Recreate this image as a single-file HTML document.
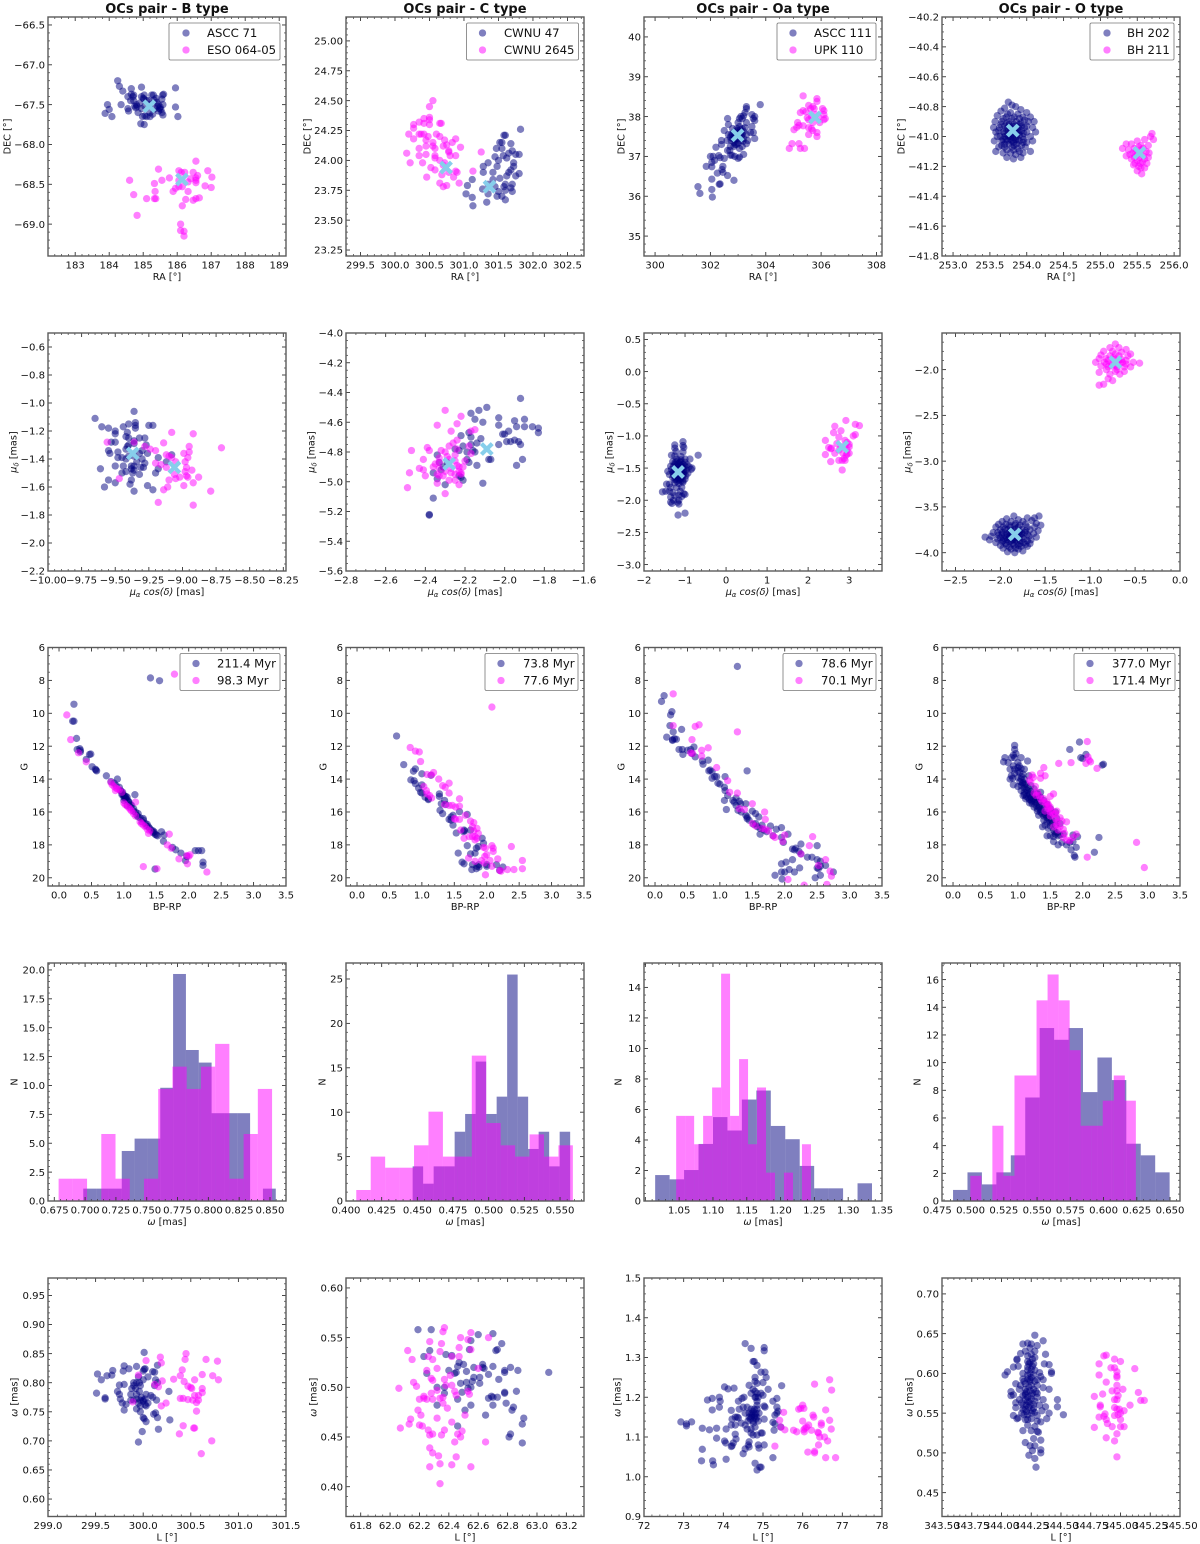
<!DOCTYPE html>
<html lang="en">
<head>
<meta charset="utf-8">
<title>OCs pair diagnostics</title>
<style>
html,body{margin:0;padding:0;background:#fff}
svg{display:block;filter:blur(0.35px)}
text{font-family:"DejaVu Sans","Liberation Sans",sans-serif;fill:#111}
</style>
</head>
<body>
<svg id="chart" xmlns="http://www.w3.org/2000/svg" width="1200" height="1544" viewBox="0 0 1200 1544"></svg>
<script>
// ---------- RA / DEC ----------
const raDecBNavy=[[184.25,-67.2],[184.3,-67.27],[184.4,-67.33],[184.35,-67.5],[183.95,-67.5],[184,-67.56],[183.88,-67.61],[184.08,-67.65],[184.55,-67.4],[184.65,-67.3],[184.65,-67.37],[184.7,-67.4],[184.72,-67.45],[184.63,-67.45],[184.55,-67.55],[184.57,-67.58],[184.75,-67.52],[184.82,-67.52],[184.85,-67.6],[184.95,-67.28],[184.95,-67.4],[185,-67.42],[185.03,-67.38],[184.95,-67.55],[184.98,-67.65],[185.05,-67.64],[185.1,-67.65],[184.93,-67.74],[185.03,-67.75],[185.15,-67.45],[185.2,-67.5],[185.25,-67.38],[185.3,-67.38],[185.38,-67.42],[185.2,-67.6],[185.2,-67.65],[185.28,-67.62],[185.45,-67.5],[185.5,-67.53],[185.52,-67.56],[185.45,-67.58],[185.55,-67.6],[185.58,-67.63],[185.55,-67.43],[185.57,-67.38],[185.6,-67.37],[185.58,-67.5],[185.95,-67.29],[185.95,-67.53],[186.02,-67.65],[185.35,-67.55],[185.1,-67.45],[184.8,-67.5],[185.42,-67.52],[184.9,-67.48],[184.72,-67.38],[184.78,-67.54],[185.02,-67.43],[185.32,-67.44],[185.48,-67.55],[185.05,-67.52],[185.4,-67.47]];
const raDecBMagenta=[[185.45,-68.31],[184.6,-68.45],[184.72,-68.63],[184.82,-68.89],[185.1,-68.68],[185.33,-68.49],[185.35,-68.59],[185.33,-68.68],[185.37,-68.68],[185.55,-68.45],[185.77,-68.42],[185.88,-68.59],[185.95,-68.55],[186.05,-68.33],[186.12,-68.35],[186.05,-68.45],[186.05,-68.53],[186.15,-68.53],[186.22,-68.35],[186.1,-69],[186.1,-69.08],[186.2,-69.09],[186.2,-69.15],[186.15,-68.77],[186.25,-68.69],[186.32,-68.59],[186.32,-68.47],[186.47,-68.35],[186.55,-68.21],[186.55,-68.42],[186.55,-68.45],[186.55,-68.48],[186.6,-68.39],[186.9,-68.33],[187.02,-68.41],[186.82,-68.52],[187,-68.54],[186.47,-68.7],[186.55,-68.68],[186.65,-68.67],[186.4,-68.43]];
const raDecBCenters=[[185.18,-67.52],[186.14,-68.44]];
const raDecCNavy=[[301.03,23.72],[301.05,23.79],[301.12,23.84],[301.12,23.69],[301.13,23.62],[301.27,23.76],[301.33,23.65],[301.35,23.72],[301.28,23.9],[301.28,23.95],[301.35,23.98],[301.42,23.9],[301.42,23.84],[301.45,24.03],[301.5,24],[301.48,23.95],[301.47,24.1],[301.52,24.15],[301.55,24.15],[301.58,24.21],[301.6,24.21],[301.57,24.04],[301.55,24.1],[301.65,24.06],[301.62,24.02],[301.68,24.14],[301.7,24.08],[301.75,24.05],[301.8,24.05],[301.82,24.26],[301.72,23.98],[301.72,23.95],[301.68,23.92],[301.65,23.9],[301.62,23.87],[301.8,23.89],[301.75,23.87],[301.6,23.8],[301.7,23.8],[301.68,23.77],[301.6,23.75],[301.5,23.74],[301.55,23.7],[301.6,23.67],[301.7,23.74],[301.45,23.78],[301.52,23.85],[301.48,23.7],[301.58,23.78],[301.35,23.8]];
const raDecCMagenta=[[300.55,24.5],[300.5,24.45],[300.5,24.36],[300.5,24.34],[300.42,24.35],[300.35,24.32],[300.42,24.31],[300.5,24.3],[300.27,24.3],[300.27,24.27],[300.65,24.31],[300.67,24.31],[300.2,24.22],[300.27,24.18],[300.35,24.22],[300.38,24.22],[300.42,24.22],[300.48,24.2],[300.45,24.17],[300.55,24.15],[300.6,24.22],[300.65,24.2],[300.72,24.17],[300.83,24.15],[300.88,24.18],[300.95,24.11],[300.35,24.1],[300.45,24.12],[300.55,24.12],[300.58,24.1],[300.7,24.12],[300.78,24.08],[300.75,24.13],[300.17,24.06],[300.35,24.04],[300.45,24.05],[300.58,24.04],[300.58,24.02],[300.65,24],[300.72,23.98],[300.78,24.07],[300.8,24.04],[300.88,24.04],[300.22,23.98],[300.4,23.98],[300.52,23.94],[300.58,23.92],[300.7,23.96],[300.78,23.9],[300.88,23.91],[300.9,23.9],[300.46,23.86],[300.65,23.81],[300.7,23.78],[300.75,23.79],[300.93,23.81],[300.85,23.86],[301.25,24.07],[301.13,23.91],[300.68,23.88]];
const raDecCCenters=[[301.37,23.78],[300.74,23.94]];
const raDecOaNavy=[[301.55,36.24],[301.62,36.07],[302.05,36.17],[302.07,35.98],[302.32,36.3],[302.35,36.31],[302.85,36.4],[302.05,36.43],[302.25,36.58],[302.45,36.6],[302.62,36.52],[301.85,36.75],[302.05,36.74],[302.15,36.9],[302.45,36.75],[302.42,36.67],[302.05,36.85],[302,37],[302.1,37],[302.3,37.02],[302.5,36.95],[302.35,36.97],[302.72,37.03],[302.78,37.03],[302.88,37],[303.05,36.98],[303,36.95],[303.2,37.05],[302.2,37.23],[302.4,37.3],[302.4,37.4],[302.62,37.15],[302.72,37.25],[302.85,37.25],[302.9,37.3],[303.05,37.2],[303.15,37.25],[303.3,37.32],[303.35,37.4],[302.6,37.4],[302.75,37.4],[302.85,37.35],[302.95,37.45],[303.1,37.4],[303.2,37.45],[303.6,37.45],[302.5,37.65],[302.65,37.55],[302.75,37.55],[302.85,37.6],[302.9,37.55],[303,37.6],[303.1,37.6],[303.15,37.55],[303.3,37.55],[303.45,37.6],[303.55,37.6],[302.65,37.8],[302.8,37.7],[302.95,37.7],[303.05,37.75],[303.15,37.7],[303.25,37.72],[303,37.85],[303.3,37.85],[303.5,37.75],[302.62,37.95],[303.05,37.95],[303.15,37.95],[303.2,38.02],[303.25,38.1],[303.3,38.2],[303.3,38.25],[303.5,38.05],[303.6,38],[303.6,37.9],[303.55,37.95],[303.1,38],[303.8,38.3],[302.95,37.3],[302.8,37.45],[303.05,37.5],[302.7,37.15],[302.8,37.55],[302.92,37.62],[303.02,37.45],[303.12,37.5],[303.2,37.62],[302.88,37.42],[303,37.33],[303.08,37.68],[302.85,37.48],[302.98,37.66],[303.18,37.38],[302.72,37.48]];
const raDecOaMagenta=[[305.35,38.52],[305.85,38.45],[305.85,38.38],[305.55,38.28],[305.35,38.15],[305.25,38.1],[305.45,38.12],[305.62,38.2],[305.7,38.25],[305.75,38.2],[306.05,38.2],[306.1,38.15],[306.1,38.05],[306.15,37.95],[305.65,38],[305.8,38.05],[305.5,37.97],[305.55,37.92],[306.1,37.92],[305.95,37.85],[305.7,37.85],[305.15,37.85],[305.2,37.78],[305.35,37.77],[305.12,37.73],[305.55,37.72],[305.7,37.65],[305.65,37.7],[305.02,37.67],[305.85,37.6],[305.55,37.55],[305.85,37.5],[304.95,37.32],[304.85,37.2],[305.2,37.32],[305.25,37.2],[305.4,37.2],[305.9,37.98]];
const raDecOaCenters=[[302.98,37.53],[305.78,37.98]];
const raDecONavy=[[253.75,-40.77],[253.8,-40.79],[253.7,-40.81],[253.85,-40.8],[253.92,-40.82],[253.65,-40.83],[253.78,-40.84],[253.88,-40.85],[254,-40.84],[253.6,-40.86],[253.72,-40.87],[253.83,-40.87],[253.95,-40.87],[254.05,-40.87],[253.57,-40.9],[253.66,-40.9],[253.76,-40.9],[253.86,-40.9],[253.92,-40.91],[254.02,-40.9],[254.1,-40.9],[253.55,-40.94],[253.63,-40.94],[253.7,-40.93],[253.8,-40.93],[253.88,-40.94],[253.97,-40.94],[254.08,-40.94],[253.58,-40.97],[253.68,-40.97],[253.75,-40.96],[253.83,-40.97],[253.9,-40.97],[254,-40.97],[254.12,-40.97],[253.6,-41],[253.7,-41],[253.78,-41],[253.86,-41],[253.95,-41],[254.05,-41],[253.56,-41.03],[253.66,-41.03],[253.74,-41.03],[253.82,-41.04],[253.9,-41.03],[254,-41.04],[254.08,-41.03],[253.62,-41.07],[253.7,-41.07],[253.8,-41.07],[253.88,-41.08],[253.98,-41.07],[253.58,-41.1],[253.68,-41.11],[253.78,-41.11],[253.85,-41.12],[253.95,-41.11],[254.05,-41.1],[253.73,-41.14],[253.82,-41.15],[253.92,-41.14],[253.76,-40.92],[253.84,-40.95],[253.72,-40.95],[253.8,-40.98],[253.88,-40.96],[253.74,-40.99],[253.82,-41.01],[253.9,-40.99],[253.78,-41.02],[253.85,-41.02],[253.7,-41.05],[253.86,-41.05],[253.68,-40.88],[253.74,-40.85],[253.8,-40.88],[253.9,-40.88],[253.97,-40.89],[253.65,-40.92],[253.73,-40.91],[253.83,-40.92],[253.93,-40.93],[254,-40.93],[253.62,-40.96],[253.7,-40.98],[253.78,-40.94],[253.86,-40.98],[253.93,-40.96],[253.96,-40.98],[253.64,-41],[253.72,-41.02],[253.8,-41.03],[253.88,-41.02],[253.96,-41.02],[253.66,-41.06],[253.76,-41.05],[253.83,-41.06],[253.93,-41.06],[253.73,-41.09],[253.82,-41.09],[253.9,-41.1],[253.78,-40.96],[253.82,-40.99],[253.76,-41],[253.84,-40.93],[253.74,-40.94],[253.9,-40.92],[253.68,-41.02],[253.95,-41.04]];
const raDecOMagenta=[[255.7,-40.98],[255.68,-41],[255.72,-41.02],[255.6,-41.02],[255.5,-41.03],[255.35,-41.05],[255.42,-41.05],[255.55,-41.06],[255.65,-41.06],[255.3,-41.08],[255.38,-41.09],[255.46,-41.08],[255.55,-41.09],[255.62,-41.1],[255.4,-41.12],[255.5,-41.12],[255.58,-41.13],[255.65,-41.14],[255.42,-41.15],[255.5,-41.16],[255.57,-41.17],[255.63,-41.18],[255.45,-41.19],[255.52,-41.2],[255.6,-41.21],[255.5,-41.23],[255.56,-41.25],[255.48,-41.1],[255.53,-41.14],[255.35,-41.13],[255.47,-41.18],[255.55,-41.21],[255.52,-41.07],[255.44,-41.11],[255.6,-41.15],[255.54,-41.18],[255.58,-41.08],[255.46,-41.14],[255.66,-41.11]];
const raDecOCenters=[[253.81,-40.96],[255.53,-41.11]];
// ---------- proper motions ----------
const pmBNavy=[[-9.65,-1.11],[-9.6,-1.17],[-9.55,-1.18],[-9.36,-1.06],[-9.5,-1.2],[-9.5,-1.22],[-9.44,-1.17],[-9.4,-1.15],[-9.35,-1.14],[-9.35,-1.16],[-9.35,-1.18],[-9.25,-1.16],[-9.22,-1.16],[-9.41,-1.21],[-9.42,-1.24],[-9.4,-1.25],[-9.36,-1.27],[-9.36,-1.29],[-9.32,-1.25],[-9.28,-1.25],[-9.5,-1.28],[-9.53,-1.28],[-9.4,-1.3],[-9.41,-1.31],[-9.42,-1.33],[-9.27,-1.3],[-9.55,-1.34],[-9.54,-1.36],[-9.48,-1.35],[-9.48,-1.39],[-9.45,-1.39],[-9.4,-1.38],[-9.42,-1.4],[-9.36,-1.38],[-9.32,-1.36],[-9.3,-1.34],[-9.26,-1.36],[-9.3,-1.4],[-9.38,-1.45],[-9.36,-1.45],[-9.38,-1.47],[-9.36,-1.48],[-9.31,-1.46],[-9.29,-1.46],[-9.5,-1.45],[-9.44,-1.45],[-9.61,-1.47],[-9.45,-1.5],[-9.42,-1.49],[-9.37,-1.5],[-9.32,-1.51],[-9.55,-1.55],[-9.5,-1.57],[-9.38,-1.55],[-9.39,-1.58],[-9.58,-1.6],[-9.36,-1.63],[-9.26,-1.59],[-9.22,-1.62],[-9.2,-1.5],[-9.18,-1.47],[-9.18,-1.39],[-9.12,-1.42],[-9.08,-1.37],[-9.34,-1.42],[-9.28,-1.43]];
const pmBMagenta=[[-9.56,-1.28],[-9.08,-1.21],[-8.92,-1.22],[-8.95,-1.31],[-8.71,-1.32],[-8.95,-1.35],[-8.99,-1.36],[-8.96,-1.39],[-9.14,-1.285],[-9.24,-1.33],[-9.2,-1.34],[-9.12,-1.37],[-9.1,-1.38],[-9.08,-1.39],[-9.28,-1.31],[-9.36,-1.28],[-9.2,-1.43],[-9.16,-1.44],[-9.12,-1.46],[-9.05,-1.42],[-8.98,-1.42],[-8.97,-1.46],[-8.93,-1.48],[-8.98,-1.49],[-9.06,-1.51],[-9.02,-1.53],[-9.05,-1.54],[-8.97,-1.52],[-8.96,-1.53],[-8.88,-1.53],[-9.1,-1.55],[-9.11,-1.6],[-8.99,-1.59],[-8.92,-1.57],[-9.14,-1.62],[-8.79,-1.63],[-9.18,-1.71],[-8.92,-1.73],[-9.47,-1.54]];
const pmBCenters=[[-9.37,-1.36],[-9.06,-1.46]];
const pmCNavy=[[-1.92,-4.44],[-2.09,-4.5],[-2.13,-4.52],[-2.17,-4.54],[-2.15,-4.58],[-2.11,-4.6],[-2.03,-4.57],[-1.95,-4.59],[-1.9,-4.58],[-1.94,-4.63],[-1.9,-4.63],[-1.86,-4.63],[-1.83,-4.64],[-1.83,-4.67],[-2.03,-4.62],[-1.98,-4.66],[-2.01,-4.68],[-2,-4.68],[-2.22,-4.69],[-2.18,-4.67],[-2.17,-4.7],[-2.12,-4.71],[-1.99,-4.73],[-1.97,-4.73],[-1.95,-4.72],[-1.93,-4.73],[-1.92,-4.75],[-2.03,-4.75],[-2.21,-4.76],[-2.17,-4.75],[-2.14,-4.74],[-2.25,-4.78],[-2.23,-4.79],[-2.19,-4.8],[-2.15,-4.8],[-2.16,-4.79],[-2.08,-4.85],[-2.07,-4.85],[-1.91,-4.85],[-1.94,-4.89],[-2.19,-4.85],[-2.18,-4.87],[-2.14,-4.89],[-2.34,-4.82],[-2.33,-4.87],[-2.31,-4.9],[-2.29,-4.87],[-2.32,-4.92],[-2.36,-4.94],[-2.34,-4.98],[-2.23,-4.96],[-2.22,-4.97],[-2.21,-4.99],[-2.11,-5.01],[-2.3,-5.02],[-2.36,-5.11],[-2.38,-5.22],[-2.38,-5.225]];
const pmCMagenta=[[-2.3,-4.52],[-2.22,-4.56],[-2.24,-4.61],[-2.34,-4.62],[-2.27,-4.66],[-2.15,-4.65],[-2.17,-4.66],[-2.24,-4.72],[-2.26,-4.74],[-2.28,-4.76],[-2.39,-4.77],[-2.38,-4.79],[-2.47,-4.79],[-2.32,-4.79],[-2.3,-4.8],[-2.24,-4.78],[-2.18,-4.76],[-2.17,-4.81],[-2.41,-4.85],[-2.33,-4.84],[-2.33,-4.87],[-2.29,-4.83],[-2.28,-4.85],[-2.25,-4.82],[-2.25,-4.86],[-2.2,-4.86],[-2.36,-4.9],[-2.35,-4.88],[-2.33,-4.91],[-2.3,-4.93],[-2.27,-4.91],[-2.24,-4.89],[-2.23,-4.9],[-2.21,-4.9],[-2.43,-4.91],[-2.41,-4.92],[-2.48,-4.94],[-2.34,-4.95],[-2.33,-4.96],[-2.31,-4.96],[-2.27,-4.94],[-2.25,-4.95],[-2.23,-4.93],[-2.22,-4.95],[-2.4,-4.96],[-2.28,-4.99],[-2.25,-4.99],[-2.34,-5.01],[-2.23,-5.02],[-2.49,-5.04],[-2.3,-5.08],[-2.22,-4.94]];
const pmCCenters=[[-2.09,-4.78],[-2.28,-4.88]];
const pmOaNavy=[[-1.05,-1.09],[-1.25,-1.14],[-1.05,-1.15],[-1.03,-1.18],[-1.25,-1.19],[-1.22,-1.24],[-1.05,-1.25],[-1.33,-1.3],[-0.68,-1.3],[-1.25,-1.31],[-1.1,-1.32],[-0.88,-1.36],[-1.2,-1.36],[-1.1,-1.37],[-1,-1.36],[-1.3,-1.4],[-1.2,-1.4],[-1.1,-1.4],[-1,-1.41],[-1.25,-1.44],[-1.15,-1.43],[-1.05,-1.44],[-0.95,-1.45],[-1.35,-1.47],[-1.28,-1.47],[-1.2,-1.46],[-1.1,-1.46],[-1,-1.47],[-0.9,-1.48],[-0.83,-1.5],[-1.42,-1.55],[-1.33,-1.52],[-1.25,-1.51],[-1.15,-1.5],[-1.05,-1.5],[-0.97,-1.53],[-0.85,-1.52],[-1.3,-1.57],[-1.22,-1.55],[-1.12,-1.55],[-1.02,-1.56],[-0.93,-1.58],[-1.38,-1.6],[-1.28,-1.61],[-1.18,-1.6],[-1.08,-1.6],[-0.98,-1.62],[-1.3,-1.65],[-1.2,-1.64],[-1.1,-1.65],[-1,-1.67],[-1.25,-1.68],[-1.15,-1.69],[-1.05,-1.7],[-1.45,-1.75],[-1.38,-1.75],[-1.25,-1.73],[-1.15,-1.74],[-1.05,-1.72],[-1.35,-1.8],[-1.2,-1.8],[-1.08,-1.8],[-1.55,-1.87],[-1.47,-1.86],[-1.38,-1.86],[-1.3,-1.88],[-1.12,-1.86],[-1.03,-1.9],[-1,-1.91],[-1.35,-1.95],[-1.25,-1.93],[-1.15,-1.92],[-1.08,-1.94],[-1.35,-2.03],[-1.28,-2],[-1.18,-2.03],[-1.15,-2.06],[-1.32,-2.05],[-1.17,-2.23],[-1,-2.2],[-1.15,-2],[-1.2,-1.52],[-1.1,-1.53],[-1.16,-1.57],[-1.2,-1.6],[-1.27,-1.55],[-1.18,-1.48],[-1.08,-1.48],[-1.23,-1.58],[-1.14,-1.58],[-1.05,-1.58],[-1.25,-1.63],[-1.15,-1.62],[-1.06,-1.63],[-1.22,-1.67],[-1.12,-1.67],[-1.03,-1.53],[-1.13,-1.41],[-1.24,-1.41],[-1.17,-1.52],[-1.09,-1.56],[-1.2,-1.7],[-1.1,-1.7],[-1.28,-1.58],[-1.03,-1.6]];
const pmOaMagenta=[[2.92,-0.76],[3.15,-0.82],[3.25,-0.84],[2.65,-0.85],[2.62,-0.95],[2.8,-0.92],[3.15,-0.98],[3.1,-1],[2.75,-1.02],[2.42,-1.07],[2.9,-1.07],[2.7,-1.12],[2.95,-1.1],[3,-1.13],[2.5,-1.18],[2.57,-1.19],[2.8,-1.17],[2.9,-1.15],[3,-1.17],[2.55,-1.2],[2.75,-1.22],[2.95,-1.22],[2.42,-1.29],[2.65,-1.27],[2.85,-1.27],[2.95,-1.28],[3,-1.27],[2.93,-1.3],[2.88,-1.35],[2.75,-1.38],[2.83,-1.38],[2.55,-1.4],[2.9,-1.38],[2.83,-1.53]];
const pmOaCenters=[[-1.17,-1.56],[2.83,-1.17]];
const pmONavy=[[-1.85,-3.6],[-1.7,-3.62],[-1.62,-3.62],[-1.57,-3.6],[-1.93,-3.63],[-1.8,-3.64],[-1.98,-3.66],[-1.88,-3.66],[-1.75,-3.66],[-1.65,-3.65],[-2.02,-3.69],[-1.94,-3.69],[-1.83,-3.68],[-1.72,-3.69],[-1.6,-3.68],[-1.55,-3.7],[-2.05,-3.72],[-1.97,-3.72],[-1.89,-3.72],[-1.8,-3.72],[-1.7,-3.72],[-1.62,-3.72],[-2,-3.75],[-1.92,-3.75],[-1.85,-3.75],[-1.76,-3.75],[-1.67,-3.75],[-1.58,-3.76],[-2.08,-3.78],[-1.98,-3.78],[-1.9,-3.78],[-1.82,-3.78],[-1.73,-3.78],[-1.63,-3.79],[-2.17,-3.83],[-2.1,-3.82],[-2.02,-3.81],[-1.95,-3.81],[-1.87,-3.81],[-1.78,-3.81],[-1.68,-3.82],[-1.6,-3.83],[-2.12,-3.86],[-2.03,-3.85],[-1.96,-3.85],[-1.9,-3.84],[-1.82,-3.84],[-1.74,-3.85],[-1.66,-3.86],[-2.05,-3.89],[-1.98,-3.88],[-1.9,-3.88],[-1.82,-3.88],[-1.74,-3.89],[-1.67,-3.9],[-2,-3.92],[-1.93,-3.92],[-1.85,-3.92],[-1.77,-3.93],[-1.7,-3.93],[-1.97,-3.95],[-1.88,-3.96],[-1.8,-3.96],[-1.92,-3.99],[-1.84,-4],[-1.75,-3.98],[-1.88,-3.76],[-1.8,-3.8],[-1.93,-3.83],[-1.86,-3.86],[-1.76,-3.83],[-1.84,-3.7],[-1.97,-3.87],[-1.78,-3.9],[-1.9,-3.7],[-1.78,-3.7],[-1.95,-3.74],[-1.83,-3.74],[-1.72,-3.76],[-1.98,-3.8],[-1.88,-3.79],[-1.79,-3.77],[-1.7,-3.8],[-2,-3.84],[-1.92,-3.86],[-1.84,-3.82],[-1.78,-3.87],[-1.7,-3.87],[-1.94,-3.9],[-1.86,-3.9],[-1.8,-3.92],[-1.72,-3.91],[-1.9,-3.94],[-1.83,-3.95],[-1.86,-3.8],[-1.9,-3.82],[-1.82,-3.8],[-1.8,-3.84],[-1.85,-3.84],[-1.88,-3.87],[-1.83,-3.86],[-1.76,-3.79],[-2.03,-3.78],[-1.93,-3.79]];
const pmOMagenta=[[-0.72,-1.72],[-0.78,-1.76],[-0.68,-1.76],[-0.6,-1.78],[-0.85,-1.8],[-0.75,-1.8],[-0.65,-1.81],[-0.55,-1.83],[-0.88,-1.84],[-0.78,-1.85],[-0.68,-1.85],[-0.58,-1.85],[-0.9,-1.88],[-0.82,-1.88],[-0.74,-1.89],[-0.65,-1.89],[-0.52,-1.92],[-0.45,-1.93],[-0.94,-1.92],[-0.84,-1.92],[-0.76,-1.93],[-0.67,-1.93],[-0.6,-1.94],[-0.88,-1.96],[-0.8,-1.97],[-0.7,-1.97],[-0.62,-1.97],[-0.55,-1.97],[-0.82,-2],[-0.72,-2.02],[-0.62,-2.02],[-0.9,-2.03],[-0.78,-2.05],[-0.67,-2.05],[-0.8,-2.1],[-0.85,-2.16],[-0.9,-2.17],[-0.75,-2.12],[-0.72,-1.83],[-0.76,-1.96],[-0.64,-1.92],[-0.8,-1.9],[-0.7,-2],[-0.74,-1.87],[-0.68,-1.9],[-0.72,-1.95],[-0.6,-1.9],[-0.82,-1.94]];
const pmOCenters=[[-1.84,-3.8],[-0.72,-1.92]];
// ---------- colour-magnitude ----------
const cmdBNavy=[[1.41,7.85],[1.55,8.02],[0.23,9.45],[0.21,10.48],[0.23,10.48],[0.27,11.53],[0.28,12.2],[0.32,12.15],[0.33,12.25],[0.33,12.35],[0.47,12.5],[0.49,12.48],[0.42,12.8],[0.51,13.25],[0.56,13.4],[0.57,13.45],[0.58,13.5],[0.73,13.8],[0.8,14.15],[0.9,14],[0.85,14.25],[0.88,14.4],[0.93,14.5],[0.95,14.7],[0.98,14.8],[1,15],[1,15.1],[1.02,15.2],[1.05,15.25],[1.08,15.4],[1.17,14.95],[1.05,15.6],[1.1,15.7],[1.15,15.8],[1.18,16],[1.2,16.2],[1.25,16.35],[1.3,16.5],[1.33,16.7],[1.38,16.9],[1.42,17.1],[1.45,17.25],[1.48,17.35],[1.52,17.45],[1.58,17.2],[1.62,17.4],[1.61,17.78],[1.75,18.15],[1.8,18.3],[1.88,18.5],[1.95,18.95],[1.97,18.7],[2.1,18.35],[2.15,18.35],[2.2,18.35],[2.22,19.05],[2.22,19.25],[1.48,19.47],[0.97,14.95],[1.03,15.05],[1.1,15.55],[1.22,16.1],[1.28,16.6],[1.35,16.85],[1,15.3],[1.45,17.15],[1.01,15.02],[0.98,14.9],[1.03,15.15],[1.05,15.1],[1.07,15.35],[1.12,15.6],[1.15,15.95],[1.22,16.3],[1.3,16.4],[1.36,16.75],[1.4,17],[1.47,17.22],[1.5,17.4],[0.96,14.75]];
const cmdBMagenta=[[1.78,7.62],[0.12,10.1],[0.18,11.6],[0.3,12.4],[0.42,12.95],[0.8,14.2],[0.82,14.35],[0.85,14.45],[0.88,14.55],[0.9,14.6],[0.93,14.65],[0.87,14.7],[0.97,14.8],[1.18,15.4],[1,15.45],[1.02,15.55],[1.05,15.65],[1.08,15.75],[1.1,15.85],[1.12,15.95],[1.15,16.1],[1.18,16.25],[1.25,16.6],[1.27,16.7],[1.3,16.8],[1.33,16.9],[1.36,17.05],[1.4,17.15],[1.38,17.3],[1.7,17.35],[1.67,18],[1.73,18.2],[1.85,18.85],[1.97,18.65],[2,18.7],[2.02,18.6],[1.98,19.15],[1.3,19.32],[1.51,19.45],[2.28,19.65]];
const cmdCNavy=[[0.61,11.38],[0.72,13.12],[0.87,13.52],[0.9,13.38],[0.83,14.05],[0.88,14.1],[0.9,14.28],[1,13.68],[1.14,13.77],[1,14.35],[0.95,14.55],[1,14.85],[0.98,14.8],[1.05,15.1],[1.1,15.2],[1.1,15.25],[1.27,14.9],[1.27,15.05],[1.35,15.3],[1.3,15.5],[1.37,15.55],[1.28,15.9],[1.32,16.1],[1.58,15.98],[1.7,16.15],[1.45,16.3],[1.48,16.2],[1.42,16.45],[1.45,16.5],[1.48,16.8],[1.64,17.2],[1.66,17.15],[1.53,17.28],[1.75,17.1],[1.84,18.2],[1.87,18.1],[1.7,18.05],[1.93,17.6],[1.95,17.9],[1.56,18.5],[1.75,18.55],[1.82,18.5],[1.62,19.05],[1.65,19.15],[1.78,19.2],[1.77,19.5],[1.84,19.45],[1.85,19.3],[1.88,19.2],[2,19.2],[2,19.3],[2.15,19.2],[2.25,19.35],[2.2,19.55],[1.65,17.1],[1.88,19.35]];
const cmdCMagenta=[[2.08,9.62],[0.82,12.08],[0.9,12.3],[0.96,12.35],[0.98,12.93],[1.18,13.6],[1.15,13.75],[1.08,13.72],[1.26,14],[1.32,14.4],[1.36,14.5],[1.42,14.25],[1.03,14.45],[1.07,14.7],[1.08,14.9],[1.12,15],[1.15,15.15],[1.42,14.85],[1.58,15.2],[1.35,15.55],[1.42,15.6],[1.47,15.6],[1.52,15.7],[1.58,15.65],[1.5,16.4],[1.52,16.45],[1.58,16.45],[1.67,16.2],[1.75,16.55],[1.8,16.65],[1.85,17],[1.6,17.1],[1.65,17.6],[1.73,17.5],[1.78,17.5],[1.82,17.5],[1.85,17.6],[1.87,17.3],[1.82,17.7],[1.8,17.15],[1.78,16.9],[1.95,18.15],[1.98,18.2],[2.08,18.05],[2.1,18.2],[2.1,18.4],[2,18.6],[1.97,18.7],[1.72,18.8],[1.92,18.95],[1.96,19.1],[2.05,18.95],[2.08,19.3],[2.17,18.85],[2.38,18.1],[2.55,18.95],[2.55,19.45],[2.42,19.5],[2.32,19.5],[2.2,19.55],[2.22,19.6],[1.98,19.82],[1.82,19]];
const cmdOaNavy=[[1.27,7.15],[0.14,8.93],[0.1,9.28],[0.26,9.9],[0.24,10.1],[0.23,10.75],[0.28,11.13],[0.41,10.98],[0.18,11.45],[0.27,11.6],[0.3,11.55],[0.33,11.58],[0.27,11.65],[0.37,12.2],[0.42,12.2],[0.43,12.5],[0.5,12.25],[0.55,12.2],[0.6,12.05],[0.57,12.45],[0.62,12.65],[0.73,12.9],[0.74,13.1],[0.82,12.85],[0.85,13.45],[0.83,13.5],[0.88,13.55],[0.88,13.95],[0.92,13.85],[0.95,13.85],[0.97,14.25],[1,14.3],[1.08,13.85],[1.07,14.5],[1.08,14.7],[1.12,15],[1.07,15.3],[1.1,15.85],[1.2,15.3],[1.22,15.4],[1.25,15.15],[1.3,15.35],[1.32,15.5],[1.25,15.6],[1.28,15.9],[1.33,16],[1.4,15.5],[1.42,13.5],[1.4,16.2],[1.42,16.3],[1.45,16.5],[1.5,15.95],[1.55,16.1],[1.6,16.3],[1.52,16.75],[1.58,16.9],[1.62,17],[1.62,17.35],[1.72,17.2],[1.78,16.85],[1.87,17.05],[1.95,16.95],[1.95,17.55],[1.82,17.45],[2.05,17.35],[1.98,17.85],[2.12,18.25],[2.15,18.3],[2.17,18.2],[2.22,18.4],[2.25,18.55],[2.25,17.95],[2.35,18.75],[2.42,18.75],[2.5,18.05],[2.5,18.9],[2.55,19],[2.5,19.4],[2.52,19.45],[2.55,19.3],[2.63,19.25],[2.55,19.85],[2.47,20],[2.75,19.65],[1.95,19.15],[2.02,19.05],[2.12,18.9],[1.95,19.65],[2,19.65],[2.07,19.5],[2.15,19.65],[2.23,19.4],[1.85,19.85],[1.96,20.08],[1.55,16.7],[1.68,17.1],[1.65,16.8],[1.42,16.4]];
const cmdOaMagenta=[[0.28,8.82],[0.28,10.75],[0.62,10.8],[0.68,10.7],[0.57,11.6],[1.27,11.13],[0.72,12.25],[0.82,12.1],[0.55,12.4],[0.58,12.45],[0.72,12.6],[0.95,13.3],[1.12,14.1],[1.15,14.8],[1.27,14.85],[1.5,15.5],[1.3,15.8],[1.38,15.85],[1.69,16],[1.7,16.45],[1.5,16.7],[1.55,16.85],[1.65,17],[1.7,17.05],[1.75,17.15],[1.82,17.45],[1.85,17.55],[1.97,17.8],[2,17.4],[2.38,18.05],[2.43,17.5],[2.25,18.55],[2.52,19.25],[2.63,18.9],[2.7,19.6],[2.72,19.9],[2.05,20.1],[2.3,20.45],[2.65,20.4]];
const cmdONavy=[[0.95,11.95],[0.95,12.2],[0.93,12.55],[0.97,12.45],[0.9,12.7],[0.95,12.7],[0.8,12.7],[0.78,12.95],[0.85,13],[1.05,12.7],[1.15,12.9],[1,13],[0.93,13.2],[0.88,13.4],[0.95,13.4],[1,13.3],[1.05,13.35],[1,13.5],[1.1,13.4],[1.08,13.7],[0.9,13.8],[0.95,13.65],[0.88,14],[0.92,13.95],[1,13.9],[1.05,14],[1.1,14],[1.17,13.8],[0.93,14.35],[1,14.45],[1.03,14.15],[1.08,14.2],[1.12,14.3],[1.05,14.4],[1.1,14.55],[1.15,14.5],[1.2,14.4],[1.05,14.7],[1.1,14.8],[1.15,14.7],[1.2,14.75],[1.25,14.6],[1.08,15],[1.13,15.05],[1.18,14.95],[1.23,14.95],[1.3,14.9],[1.35,14.8],[1.12,15.2],[1.18,15.25],[1.24,15.2],[1.3,15.15],[1.35,15.1],[1.18,15.45],[1.22,15.5],[1.28,15.45],[1.33,15.4],[1.4,15.3],[1.25,15.7],[1.32,15.7],[1.38,15.65],[1.45,15.55],[1.3,15.95],[1.35,16],[1.42,16],[1.5,15.8],[1.32,16.2],[1.4,16.25],[1.47,16.2],[1.52,16.1],[1.58,16],[1.4,16.5],[1.45,16.6],[1.52,16.5],[1.6,16.4],[1.42,16.8],[1.38,16.9],[1.5,16.85],[1.58,16.8],[1.65,16.7],[1.47,17],[1.55,17.1],[1.45,17.45],[1.5,17.45],[1.58,17.35],[1.65,17.4],[1.7,17.35],[1.55,17.8],[1.62,18],[1.68,17.85],[1.75,18],[1.8,17.85],[1.85,17.4],[1.85,17.8],[1.92,17.5],[1.82,18.3],[1.9,18.15],[1.87,18.65],[1.88,18.75],[2.18,18.45],[2.25,17.55],[1.8,12.2],[1.95,11.75],[1.97,12.7],[2,12.75],[2.05,12.5],[2.3,13.15],[2.32,13.1],[1.02,13.2],[1.03,13.6],[1.06,13.85],[1.07,14.25],[1.1,14.35],[1.13,14.65],[1.17,14.85],[1.2,15.1],[1.22,15.3],[1.26,15.35],[1.28,15.6],[1.3,15.8],[1.35,15.85],[1.37,16.1],[1.42,16.15],[1.45,16.35],[1.48,16.45],[1.53,16.7],[1.57,17.2],[1.62,17.45],[1.1,14.95],[1.16,15.15],[1.21,15.35],[1.27,15.25],[1.33,15.6],[1.4,15.8],[1.43,16.2],[1.5,16.6],[1.6,17.25],[1.55,17.5]];
const cmdOMagenta=[[2.07,11.72],[2.08,12.65],[2.1,12.85],[2.12,12.95],[2.05,13.05],[1.82,13],[1.63,13.05],[1.4,13.3],[2.22,13.35],[1.35,13.65],[1.42,13.8],[1.35,13.95],[1.22,13.75],[1.24,13.9],[1.18,14.05],[1.2,14.2],[1.27,14.45],[1.25,14.85],[1.28,15],[1.33,15],[1.5,15.05],[1.55,14.9],[1.37,15.35],[1.42,15.45],[1.45,15.65],[1.5,15.7],[1.42,15.95],[1.5,16],[1.6,15.95],[1.58,16.1],[1.5,16.25],[1.58,16.4],[1.65,16.35],[1.68,16.55],[1.75,16.6],[1.6,16.8],[1.55,16.9],[1.62,17.1],[1.7,17.05],[1.72,17.3],[1.75,17.7],[1.8,17.75],[1.85,17.55],[1.9,17.35],[2.83,17.85],[2.95,19.38],[2.07,18.75],[1.4,15.2],[1.47,15.8],[1.3,14.8],[1.35,15.2],[1.45,15.4],[1.47,15.55],[1.52,15.9],[1.55,16.15],[1.6,16.6],[1.65,16.9],[1.7,17.55]];
// ---------- parallax histograms (bin range + heights) ----------
const histBNavyRange=[0.6985,0.8547];
const histBNavyCounts=[1.07,1.07,1.07,4.33,5.4,5.4,9.8,19.65,13.07,11.98,7.6,7.6,7.6,0,1.07];
const histBMagentaRange=[0.6785,0.8517];
const histBMagentaCounts=[1.93,1.93,0,5.8,1.93,0,1.93,9.7,11.63,9.7,11.63,13.6,1.93,5.8,9.7];
const histCNavyRange=[0.4467,0.5571];
const histCNavyCounts=[3.9,1.95,3.9,3.9,7.8,9.8,15.7,9.8,11.75,25.5,11.75,5.86,7.8,3.9,7.8];
const histCMagentaRange=[0.4072,0.5590];
const histCMagentaCounts=[1.24,5,3.75,3.75,6.27,10.06,5,5,16.37,8.78,6.27,5,7.5,5,6.27];
const histOaNavyRange=[1.0145,1.3352];
const histOaNavyCounts=[1.7,1.42,2.03,3.74,5.5,4.62,6.65,7.24,4.92,4.05,2.3,0.83,0.83,0,1.16];
const histOaMagentaRange=[1.0456,1.2449];
const histOaMagentaCounts=[5.58,5.58,3.72,5.58,7.44,14.9,5.58,9.3,3.72,7.44,1.86,0,1.86,0,3.72];
const histONavyRange=[0.4868,0.6497];
const histONavyCounts=[0.8,2.07,1.2,2.07,3.3,7.48,12.5,11.65,12.5,7.87,10.37,8.74,4.14,3.3,2.07];
const histOMagentaRange=[0.4998,0.6243];
const histOMagentaCounts=[1.82,0,5.44,1.82,9.07,9.07,14.5,16.37,14.5,10.9,5.44,5.44,7.25,9.07,7.25];
// ---------- L vs parallax ----------
const lPlxBNavy=[[300.01,0.852],[299.52,0.815],[299.56,0.805],[299.62,0.812],[299.67,0.813],[299.68,0.821],[299.8,0.829],[299.79,0.82],[299.85,0.824],[299.93,0.828],[300.02,0.824],[300,0.82],[300.01,0.823],[300.12,0.818],[300.1,0.819],[300.15,0.83],[299.51,0.782],[299.6,0.774],[299.6,0.772],[299.73,0.785],[299.75,0.78],[299.75,0.796],[299.8,0.797],[299.76,0.772],[299.78,0.765],[299.82,0.763],[299.8,0.753],[299.87,0.78],[299.88,0.79],[299.9,0.795],[299.93,0.8],[299.95,0.81],[299.96,0.8],[299.97,0.795],[300,0.805],[300.05,0.81],[299.9,0.77],[299.93,0.772],[299.97,0.77],[300,0.768],[300.02,0.762],[299.97,0.76],[300,0.77],[300.03,0.78],[300.08,0.778],[300.1,0.775],[300.14,0.77],[300.13,0.805],[300.15,0.8],[300.12,0.795],[299.93,0.755],[299.97,0.75],[300,0.74],[300.01,0.738],[300.03,0.733],[300.11,0.746],[300.13,0.748],[300.15,0.74],[300.28,0.736],[299.99,0.716],[299.95,0.698],[300.16,0.72],[300.27,0.785],[300.03,0.76],[300.05,0.765],[299.93,0.78],[299.87,0.77],[299.96,0.785],[299.9,0.8],[299.98,0.775],[300.02,0.772],[299.95,0.765],[299.92,0.79]];
const lPlxBMagenta=[[300.03,0.838],[300.18,0.844],[300.19,0.834],[300.45,0.85],[300.44,0.84],[300.66,0.84],[300.78,0.837],[300.41,0.822],[300.39,0.812],[300.32,0.806],[300.2,0.803],[300.43,0.802],[300.54,0.805],[300.62,0.814],[300.73,0.812],[300.79,0.805],[300.12,0.797],[300.16,0.793],[300.47,0.794],[300.5,0.792],[300.51,0.79],[300.62,0.79],[300.62,0.783],[300.54,0.778],[300.58,0.778],[300.39,0.773],[300.42,0.773],[300.47,0.771],[300.52,0.77],[300.56,0.766],[300.58,0.77],[300.24,0.765],[300.19,0.76],[300.56,0.751],[300.42,0.726],[300.53,0.722],[300.54,0.722],[300.38,0.712],[300.72,0.7],[300.61,0.678],[299.89,0.767],[299.95,0.813]];
const lPlxCNavy=[[62.19,0.558],[62.28,0.558],[62.27,0.537],[62.23,0.531],[62.38,0.533],[62.42,0.532],[62.55,0.547],[62.54,0.538],[62.6,0.553],[62.7,0.554],[62.76,0.544],[62.72,0.537],[62.73,0.538],[62.25,0.514],[62.32,0.5],[62.4,0.517],[62.47,0.525],[62.45,0.515],[62.44,0.514],[62.5,0.523],[62.46,0.521],[62.52,0.516],[62.57,0.52],[62.63,0.523],[62.64,0.519],[62.63,0.52],[62.7,0.521],[62.78,0.517],[62.78,0.515],[62.82,0.52],[62.87,0.517],[63.08,0.515],[62.67,0.513],[62.74,0.508],[62.61,0.51],[62.57,0.51],[62.56,0.506],[62.52,0.505],[62.48,0.504],[62.55,0.5],[62.53,0.499],[62.61,0.504],[62.37,0.5],[62.37,0.494],[62.49,0.495],[62.46,0.488],[62.67,0.489],[62.69,0.491],[62.7,0.49],[62.73,0.49],[62.78,0.494],[62.78,0.495],[62.86,0.496],[62.32,0.482],[62.55,0.482],[62.51,0.477],[62.7,0.482],[62.79,0.484],[62.84,0.48],[62.83,0.477],[62.65,0.472],[62.91,0.469],[62.9,0.463],[62.46,0.461],[62.82,0.453],[62.81,0.45],[62.9,0.444]];
const lPlxCMagenta=[[62.37,0.56],[62.36,0.556],[62.55,0.555],[62.48,0.55],[62.53,0.548],[62.67,0.55],[62.27,0.546],[62.35,0.544],[62.12,0.537],[62.26,0.531],[62.34,0.536],[62.47,0.54],[62.55,0.538],[62.15,0.528],[62.29,0.528],[62.42,0.531],[62.47,0.531],[62.32,0.519],[62.25,0.517],[62.6,0.519],[62.41,0.512],[62.28,0.509],[62.29,0.507],[62.37,0.508],[62.16,0.505],[62.18,0.501],[62.06,0.499],[62.38,0.502],[62.42,0.502],[62.32,0.497],[62.28,0.494],[62.23,0.491],[62.2,0.488],[62.23,0.489],[62.25,0.488],[62.29,0.488],[62.34,0.489],[62.36,0.49],[62.44,0.496],[62.45,0.492],[62.53,0.496],[62.54,0.493],[62.36,0.484],[62.39,0.479],[62.19,0.477],[62.21,0.472],[62.51,0.472],[62.32,0.469],[62.14,0.468],[62.13,0.463],[62.2,0.462],[62.22,0.461],[62.07,0.459],[62.26,0.457],[62.37,0.457],[62.42,0.465],[62.49,0.456],[62.46,0.453],[62.48,0.45],[62.27,0.452],[62.29,0.453],[62.35,0.452],[62.44,0.445],[62.65,0.445],[62.27,0.439],[62.29,0.434],[62.33,0.431],[62.45,0.43],[62.34,0.423],[62.42,0.422],[62.27,0.42],[62.55,0.42],[62.34,0.403]];
const lPlxOaNavy=[[74.55,1.335],[74.7,1.323],[75.03,1.325],[75.03,1.317],[74.75,1.29],[74.78,1.29],[74.85,1.28],[74.95,1.263],[75.05,1.263],[75.08,1.25],[74.8,1.25],[74.8,1.24],[74.85,1.235],[75,1.237],[74.65,1.23],[74.75,1.22],[74.8,1.215],[75.47,1.229],[74.03,1.226],[74.12,1.221],[74.27,1.223],[75.13,1.22],[74.7,1.21],[74.85,1.21],[74.95,1.21],[75,1.205],[74.82,1.2],[74.52,1.2],[74.47,1.197],[74.38,1.19],[73.6,1.193],[73.72,1.197],[73.9,1.2],[73.92,1.19],[75.25,1.19],[75.35,1.197],[74.85,1.19],[74.85,1.18],[75.03,1.178],[75.05,1.175],[73.72,1.168],[73.9,1.175],[74.2,1.167],[74.4,1.17],[74.5,1.175],[74.6,1.175],[74.7,1.17],[74.85,1.17],[75.35,1.175],[75.38,1.165],[74.55,1.16],[74.65,1.16],[74.75,1.165],[74.8,1.155],[74.65,1.15],[74.7,1.15],[74.78,1.15],[74.85,1.15],[75.3,1.155],[75.35,1.16],[74.3,1.15],[74.35,1.15],[74.38,1.148],[74.22,1.145],[74.62,1.14],[74.75,1.14],[74.88,1.14],[75.03,1.145],[72.93,1.138],[73.2,1.138],[73.07,1.128],[73.07,1.133],[74.2,1.13],[74.3,1.13],[74.45,1.135],[74.55,1.13],[75.25,1.137],[75.3,1.133],[75.45,1.125],[73.47,1.122],[73.65,1.118],[73.83,1.122],[74.07,1.12],[74.6,1.12],[74.7,1.12],[74.8,1.125],[74.95,1.11],[74.98,1.11],[75.28,1.117],[74.7,1.11],[74.75,1.105],[74.85,1.105],[74.3,1.107],[74.32,1.095],[73.83,1.097],[74.03,1.09],[74.06,1.085],[74.25,1.085],[74.2,1.076],[74.22,1.078],[74.65,1.088],[74.63,1.08],[74.65,1.075],[74.88,1.08],[74.9,1.072],[75.03,1.08],[73.47,1.069],[74.5,1.058],[74.55,1.07],[75.25,1.048],[74.07,1.044],[73.45,1.04],[73.73,1.04],[73.75,1.03],[74.8,1.034],[74.95,1.024],[74.92,1.024],[74.85,1.017],[74.72,1.16],[74.78,1.17],[74.68,1.145],[74.82,1.145],[74.72,1.155],[74.76,1.135],[74.8,1.2],[74.88,1.2],[74.82,1.16],[74.9,1.16]];
const lPlxOaMagenta=[[76.3,1.233],[76.68,1.244],[76.73,1.218],[76,1.18],[75.52,1.162],[75.9,1.17],[76.03,1.172],[75.95,1.172],[76.58,1.168],[76.26,1.155],[76.28,1.15],[75.42,1.142],[76,1.14],[76.68,1.142],[76.47,1.135],[76.47,1.13],[76.15,1.13],[76.1,1.125],[75.45,1.125],[75.55,1.118],[75.77,1.117],[75.85,1.113],[76.03,1.118],[76.06,1.122],[76.04,1.113],[76.22,1.117],[76.38,1.112],[76.4,1.11],[76.72,1.12],[76.43,1.1],[76.55,1.1],[76.63,1.09],[76.4,1.08],[75.3,1.077],[76.13,1.062],[76.3,1.06],[76.3,1.064],[76.58,1.048],[76.83,1.048]];
const lPlxONavy=[[344.28,0.648],[344.22,0.638],[344.25,0.637],[344.18,0.637],[344.35,0.641],[344.3,0.635],[344.24,0.632],[344.28,0.628],[344.2,0.628],[344.37,0.624],[344.16,0.625],[344.22,0.622],[344.28,0.62],[344.13,0.618],[344.13,0.617],[344.22,0.615],[344.27,0.612],[344.36,0.612],[344.4,0.611],[344.14,0.609],[344.1,0.608],[344.05,0.602],[344.03,0.598],[344.22,0.608],[344.25,0.605],[344.28,0.604],[344.32,0.601],[344.42,0.602],[344.42,0.6],[344.18,0.6],[344.22,0.598],[344.27,0.598],[344.33,0.596],[344.18,0.593],[344.24,0.592],[344.3,0.592],[344.35,0.592],[344.12,0.587],[344.2,0.587],[344.25,0.585],[344.3,0.585],[344.35,0.582],[344.4,0.58],[344.15,0.58],[344.2,0.58],[344.24,0.578],[344.29,0.577],[344.08,0.577],[344.08,0.572],[344.1,0.573],[344.2,0.573],[344.25,0.572],[344.3,0.57],[344.15,0.567],[344.22,0.565],[344.28,0.565],[344.35,0.567],[344.47,0.567],[344.12,0.563],[344.18,0.56],[344.24,0.56],[344.32,0.56],[344.37,0.558],[344.47,0.558],[344.12,0.557],[344.2,0.555],[344.26,0.553],[344.34,0.553],[344.1,0.547],[344.17,0.55],[344.22,0.548],[344.3,0.547],[344.4,0.55],[344.52,0.548],[344.13,0.543],[344.14,0.544],[344.2,0.542],[344.3,0.54],[344.38,0.543],[344.33,0.539],[344.22,0.535],[344.28,0.533],[344.18,0.528],[344.25,0.528],[344.31,0.526],[344.3,0.527],[344.27,0.518],[344.33,0.516],[344.2,0.513],[344.24,0.509],[344.28,0.509],[344.33,0.504],[344.33,0.5],[344.26,0.503],[344.23,0.497],[344.28,0.493],[344.29,0.482],[344.22,0.604],[344.24,0.59],[344.26,0.575],[344.22,0.57],[344.27,0.561],[344.21,0.56],[344.25,0.55],[344.23,0.612],[344.26,0.618],[344.2,0.575],[344.18,0.555],[344.25,0.595],[344.19,0.59],[344.23,0.583],[344.27,0.58],[344.21,0.577],[344.25,0.568],[344.18,0.572],[344.23,0.564],[344.27,0.556],[344.21,0.552],[344.25,0.543],[344.17,0.563],[344.24,0.6],[344.26,0.609],[344.22,0.593],[344.28,0.59],[344.16,0.585],[344.3,0.575],[344.2,0.567],[344.28,0.551],[344.23,0.557],[344.24,0.614],[344.25,0.624],[344.19,0.548],[344.22,0.542]];
const lPlxOMagenta=[[344.86,0.622],[344.88,0.623],[344.95,0.618],[345,0.615],[344.82,0.612],[344.92,0.607],[344.95,0.607],[345.12,0.606],[344.97,0.602],[344.82,0.598],[344.97,0.597],[344.97,0.595],[344.88,0.589],[344.97,0.585],[345.02,0.58],[344.93,0.578],[344.97,0.578],[345.15,0.576],[344.98,0.572],[344.85,0.574],[344.78,0.571],[344.97,0.567],[344.95,0.567],[345.17,0.566],[345.2,0.566],[344.83,0.56],[344.83,0.558],[345.08,0.56],[344.95,0.557],[344.97,0.555],[344.99,0.555],[345.03,0.553],[345,0.55],[344.87,0.549],[344.86,0.546],[344.82,0.545],[344.95,0.547],[344.98,0.548],[344.88,0.542],[344.89,0.537],[345,0.542],[344.78,0.532],[344.93,0.533],[345,0.533],[345.03,0.533],[344.97,0.524],[344.88,0.519],[344.95,0.515],[344.97,0.495]];
// ---------- tick labels shared by colour-magnitude panels ----------
const cmdXTicks=['0.0','0.5','1.0','1.5','2.0','2.5','3.0','3.5'];
const cmdYTicks=['6','8','10','12','14','16','18','20'];
const cmdXLim=[-0.17,3.5];
const cmdYLim=[20.5,6];
const colLeft=[48,346,644,942];
const rowTop=[17,333,647.5,963,1278];
const rowBottom=[256,571,886,1201,1516.5];
const PM_X='pmx';
const PM_Y='pmy';
const PLX='plx';
const panels=[
 {slug:'radec-b',col:0,row:0,title:'OCs pair - B type',xLim:[182.2,189.2],yLim:[-69.4,-66.4],xTicks:['183','184','185','186','187','188','189'],yTicks:['-66.5','-67.0','-67.5','-68.0','-68.5','-69.0'],xLabel:'RA [°]',yLabel:'DEC [°]',yLabelX:7,navy:raDecBNavy,magenta:raDecBMagenta,centers:raDecBCenters,legend:{labels:['ASCC 71','ESO 064-05'],left:169,right:280,mark:186,text:207}},
 {slug:'radec-c',col:1,row:0,title:'OCs pair - C type',xLim:[299.29,302.74],yLim:[23.2,25.2],xTicks:['299.5','300.0','300.5','301.0','301.5','302.0','302.5'],yTicks:['23.25','23.50','23.75','24.00','24.25','24.50','24.75','25.00'],xLabel:'RA [°]',yLabel:'DEC [°]',yLabelX:307,navy:raDecCNavy,magenta:raDecCMagenta,centers:raDecCCenters,legend:{labels:['CWNU 47','CWNU 2645'],left:466.5,right:578.5,mark:482.5,text:504}},
 {slug:'radec-oa',col:2,row:0,title:'OCs pair - Oa type',xLim:[299.6,308.2],yLim:[34.5,40.5],xTicks:['300','302','304','306','308'],yTicks:['35','36','37','38','39','40'],xLabel:'RA [°]',yLabel:'DEC [°]',yLabelX:621,navy:raDecOaNavy,magenta:raDecOaMagenta,centers:raDecOaCenters,legend:{labels:['ASCC 111','UPK 110'],left:777,right:876,mark:793,text:814}},
 {slug:'radec-o',col:3,row:0,title:'OCs pair - O type',xLim:[252.85,256.08],yLim:[-41.8,-40.2],xTicks:['253.0','253.5','254.0','254.5','255.0','255.5','256.0'],yTicks:['-41.8','-41.6','-41.4','-41.2','-41.0','-40.8','-40.6','-40.4','-40.2'],xLabel:'RA [°]',yLabel:'DEC [°]',yLabelX:901,navy:raDecONavy,magenta:raDecOMagenta,centers:raDecOCenters,legend:{labels:['BH 202','BH 211'],left:1090,right:1174,mark:1107,text:1127}},
 {slug:'pm-b',col:0,row:1,xLim:[-10,-8.23],yLim:[-2.2,-0.5],xTicks:['-10.00','-9.75','-9.50','-9.25','-9.00','-8.75','-8.50','-8.25'],yTicks:['-2.2','-2.0','-1.8','-1.6','-1.4','-1.2','-1.0','-0.8','-0.6'],xLabel:PM_X,yLabel:PM_Y,yLabelX:13,navy:pmBNavy,magenta:pmBMagenta,centers:pmBCenters},
 {slug:'pm-c',col:1,row:1,xLim:[-2.8,-1.6],yLim:[-5.6,-4],xTicks:['-2.8','-2.6','-2.4','-2.2','-2.0','-1.8','-1.6'],yTicks:['-5.6','-5.4','-5.2','-5.0','-4.8','-4.6','-4.4','-4.2','-4.0'],xLabel:PM_X,yLabel:PM_Y,yLabelX:311,navy:pmCNavy,magenta:pmCMagenta,centers:pmCCenters},
 {slug:'pm-oa',col:2,row:1,xLim:[-2,3.8],yLim:[-3.1,0.6],xTicks:['-2','-1','0','1','2','3'],yTicks:['-3.0','-2.5','-2.0','-1.5','-1.0','-0.5','0.0','0.5'],xLabel:PM_X,yLabel:PM_Y,yLabelX:609,navy:pmOaNavy,magenta:pmOaMagenta,centers:pmOaCenters},
 {slug:'pm-o',col:3,row:1,xLim:[-2.65,0],yLim:[-4.2,-1.6],xTicks:['-2.5','-2.0','-1.5','-1.0','-0.5','0.0'],yTicks:['-4.0','-3.5','-3.0','-2.5','-2.0'],xLabel:PM_X,yLabel:PM_Y,yLabelX:907,navy:pmONavy,magenta:pmOMagenta,centers:pmOCenters},
 {slug:'cmd-b',col:0,row:2,xLim:cmdXLim,yLim:cmdYLim,xTicks:cmdXTicks,yTicks:cmdYTicks,xLabel:'BP-RP',yLabel:'G',yLabelX:24,navy:cmdBNavy,magenta:cmdBMagenta,legend:{labels:['211.4 Myr','98.3 Myr'],left:180,right:280,mark:196,text:217}},
 {slug:'cmd-c',col:1,row:2,xLim:cmdXLim,yLim:cmdYLim,xTicks:cmdXTicks,yTicks:cmdYTicks,xLabel:'BP-RP',yLabel:'G',yLabelX:323,navy:cmdCNavy,magenta:cmdCMagenta,legend:{labels:['73.8 Myr','77.6 Myr'],left:485,right:578,mark:501,text:523}},
 {slug:'cmd-oa',col:2,row:2,xLim:cmdXLim,yLim:cmdYLim,xTicks:cmdXTicks,yTicks:cmdYTicks,xLabel:'BP-RP',yLabel:'G',yLabelX:621,navy:cmdOaNavy,magenta:cmdOaMagenta,legend:{labels:['78.6 Myr','70.1 Myr'],left:783,right:876,mark:799,text:821}},
 {slug:'cmd-o',col:3,row:2,xLim:cmdXLim,yLim:cmdYLim,xTicks:cmdXTicks,yTicks:cmdYTicks,xLabel:'BP-RP',yLabel:'G',yLabelX:919,navy:cmdONavy,magenta:cmdOMagenta,legend:{labels:['377.0 Myr','171.4 Myr'],left:1074,right:1175,mark:1090,text:1112}},
 {slug:'hist-b',col:0,row:3,xLim:[0.6699,0.863],yLim:[0,20.6],xTicks:['0.675','0.700','0.725','0.750','0.775','0.800','0.825','0.850'],yTicks:['0.0','2.5','5.0','7.5','10.0','12.5','15.0','17.5','20.0'],xLabel:PLX,yLabel:'N',yLabelX:14,hist:[{range:histBNavyRange,counts:histBNavyCounts,color:'navy'},{range:histBMagentaRange,counts:histBMagentaCounts,color:'magenta'}]},
 {slug:'hist-c',col:1,row:3,xLim:[0.4,0.5668],yLim:[0,26.8],xTicks:['0.400','0.425','0.450','0.475','0.500','0.525','0.550'],yTicks:['0','5','10','15','20','25'],xLabel:PLX,yLabel:'N',yLabelX:322,hist:[{range:histCNavyRange,counts:histCNavyCounts,color:'navy'},{range:histCMagentaRange,counts:histCMagentaCounts,color:'magenta'}]},
 {slug:'hist-oa',col:2,row:3,xLim:[0.998,1.35],yLim:[0,15.6],xTicks:['1.05','1.10','1.15','1.20','1.25','1.30','1.35'],yTicks:['0','2','4','6','8','10','12','14'],xLabel:PLX,yLabel:'N',yLabelX:618,hist:[{range:histOaNavyRange,counts:histOaNavyCounts,color:'navy'},{range:histOaMagentaRange,counts:histOaMagentaCounts,color:'magenta'}]},
 {slug:'hist-o',col:3,row:3,xLim:[0.4785,0.6575],yLim:[0,17.2],xTicks:['0.475','0.500','0.525','0.550','0.575','0.600','0.625','0.650'],yTicks:['0','2','4','6','8','10','12','14','16'],xLabel:PLX,yLabel:'N',yLabelX:917,hist:[{range:histONavyRange,counts:histONavyCounts,color:'navy'},{range:histOMagentaRange,counts:histOMagentaCounts,color:'magenta'}]},
 {slug:'lplx-b',col:0,row:4,xLim:[299,301.5],yLim:[0.57,0.98],xTicks:['299.0','299.5','300.0','300.5','301.0','301.5'],yTicks:['0.60','0.65','0.70','0.75','0.80','0.85','0.90','0.95'],xLabel:'L [°]',yLabel:PLX,yLabelX:14,navy:lPlxBNavy,magenta:lPlxBMagenta},
 {slug:'lplx-c',col:1,row:4,xLim:[61.7,63.32],yLim:[0.37,0.61],xTicks:['61.8','62.0','62.2','62.4','62.6','62.8','63.0','63.2'],yTicks:['0.40','0.45','0.50','0.55','0.60'],xLabel:'L [°]',yLabel:PLX,yLabelX:313,navy:lPlxCNavy,magenta:lPlxCMagenta},
 {slug:'lplx-oa',col:2,row:4,xLim:[72,78],yLim:[0.9,1.5],xTicks:['72','73','74','75','76','77','78'],yTicks:['0.9','1.0','1.1','1.2','1.3','1.4','1.5'],xLabel:'L [°]',yLabel:PLX,yLabelX:617,navy:lPlxOaNavy,magenta:lPlxOaMagenta},
 {slug:'lplx-o',col:3,row:4,xLim:[343.5,345.5],yLim:[0.42,0.72],xTicks:['343.50','343.75','344.00','344.25','344.50','344.75','345.00','345.25','345.50'],yTicks:['0.45','0.50','0.55','0.60','0.65','0.70'],xLabel:'L [°]',yLabel:PLX,yLabelX:909,navy:lPlxONavy,magenta:lPlxOMagenta}
];

const NS='http://www.w3.org/2000/svg';
const root=document.getElementById('chart');
const AXW=238;
const TICK_SIZE=10.1, LABEL_SIZE=9.7, LEGEND_SIZE=11.7, TITLE_SIZE=13;
const POINT_R=3.65;

function node(tag,parent){
  const e=document.createElementNS(NS,tag);
  parent.appendChild(e);
  return e;
}
function place(t,x,y,size,anchor){
  t.setAttribute('x',x);
  t.setAttribute('y',y);
  t.setAttribute('font-size',size);
  t.setAttribute('text-anchor',anchor);
}
function axisLabelMarkup(kind,size){
  const sub=size*0.7, d=size*0.22;
  if(kind===PM_X) return '<tspan font-style="italic">μ</tspan><tspan font-style="italic" font-size="'+sub+'" dy="'+d+'">α</tspan><tspan dy="'+(-d)+'" font-style="italic"> cos(δ)</tspan> [mas]';
  if(kind===PM_Y) return '<tspan font-style="italic">μ</tspan><tspan font-style="italic" font-size="'+sub+'" dy="'+d+'">δ</tspan><tspan dy="'+(-d)+'"> [mas]</tspan>';
  if(kind===PLX) return '<tspan font-style="italic">ω</tspan> [mas]';
  return kind;
}
function minorCount(step){
  const m=step/Math.pow(10,Math.floor(Math.log10(step)+1e-9));
  const rounded=Math.round(m*100)/100;
  return (rounded===1||rounded===2.5||rounded===5||rounded===10)?5:4;
}
function drawTick(group,x1,y1,x2,y2,w){
  const l=node('line',group);
  l.setAttribute('x1',x1);l.setAttribute('y1',y1);l.setAttribute('x2',x2);l.setAttribute('y2',y2);
  l.setAttribute('stroke','#333');l.setAttribute('stroke-width',w);
  
  
}
function drawPanel(p){
  const L=colLeft[p.col], R=L+AXW, T=rowTop[p.row], B=rowBottom[p.row];
  const sx=v=>L+(v-p.xLim[0])/(p.xLim[1]-p.xLim[0])*(R-L);
  const sy=v=>B+(v-p.yLim[0])/(p.yLim[1]-p.yLim[0])*(T-B);
  const g=node('g',root);
  
  

  if(p.title){
    const tt=node('text',g);
    place(tt,(L+R)/2,13,TITLE_SIZE,'middle');
    tt.setAttribute('font-weight','bold');
    tt.textContent=p.title;
    
    
  }

  const clipId='clip-'+p.slug;
  const cp=node('clipPath',g);
  cp.setAttribute('id',clipId);
  const cr=node('rect',cp);
  cr.setAttribute('x',L);cr.setAttribute('y',T);cr.setAttribute('width',R-L);cr.setAttribute('height',B-T);

  const marks=node('g',g);
  marks.setAttribute('clip-path','url(#'+clipId+')');
  
  

  if(p.hist){
    p.hist.forEach(function(h){
      const n=h.counts.length, w=(h.range[1]-h.range[0])/n;
      h.counts.forEach(function(c,i){
        if(c<=0) return;
        const x0=sx(h.range[0]+i*w), x1=sx(h.range[0]+(i+1)*w);
        const r=node('rect',marks);
        r.setAttribute('x',x0);r.setAttribute('y',sy(c));
        r.setAttribute('width',x1-x0);r.setAttribute('height',sy(0)-sy(c));
        r.setAttribute('fill',h.color);r.setAttribute('fill-opacity','0.5');
        
        
      });
    });
  }else{
    [['navy',p.navy],['magenta',p.magenta]].forEach(function(s){
      s[1].forEach(function(pt){
        const c=node('circle',marks);
        c.setAttribute('cx',sx(pt[0]));c.setAttribute('cy',sy(pt[1]));c.setAttribute('r',POINT_R);
        c.setAttribute('fill',s[0]);c.setAttribute('fill-opacity','0.5');
        
        
      });
    });
    if(p.centers){
      p.centers.forEach(function(pt){
        const cx=sx(pt[0]), cy=sy(pt[1]), a=5.4;
        const m=node('path',marks);
        m.setAttribute('d','M'+(cx-a)+' '+(cy-a)+'L'+(cx+a)+' '+(cy+a)+'M'+(cx-a)+' '+(cy+a)+'L'+(cx+a)+' '+(cy-a));
        m.setAttribute('stroke','#87ceeb');m.setAttribute('stroke-width',4.2);m.setAttribute('fill','none');
        
        
      });
    }
  }

  const xt=p.xTicks.map(parseFloat), yt=p.yTicks.map(parseFloat);
  const ticks=node('g',g);
  
  
  const inRange=(v,lim)=>v>=Math.min(lim[0],lim[1])-1e-9&&v<=Math.max(lim[0],lim[1])+1e-9;
  const xs=Math.abs(xt[1]-xt[0]), ys=Math.abs(yt[1]-yt[0]);
  const xn=minorCount(xs), yn=minorCount(ys);
  const xBase=Math.min.apply(null,xt), yBase=Math.min.apply(null,yt);
  for(let k=-3*xn;k<=(xt.length+3)*xn;k++){
    const v=xBase+k*xs/xn;
    if(!inRange(v,p.xLim)) continue;
    const isMajor=k%xn===0, len=isMajor?4:2, w=isMajor?0.9:0.7, X=sx(v);
    drawTick(ticks,X,B,X,B-len,w);
    drawTick(ticks,X,T,X,T+len,w);
  }
  for(let k=-3*yn;k<=(yt.length+3)*yn;k++){
    const v=yBase+k*ys/yn;
    if(!inRange(v,p.yLim)) continue;
    const isMajor=k%yn===0, len=isMajor?4:2, w=isMajor?0.9:0.7, Y=sy(v);
    drawTick(ticks,L,Y,L+len,Y,w);
    drawTick(ticks,R,Y,R-len,Y,w);
  }
  p.xTicks.forEach(function(s){
    const t=node('text',g);
    place(t,sx(parseFloat(s)),B+12.7,TICK_SIZE,'middle');
    t.textContent=s.replace('-','−');
    
    
  });
  p.yTicks.forEach(function(s){
    const t=node('text',g);
    place(t,L-3,sy(parseFloat(s))+3.7,TICK_SIZE,'end');
    t.textContent=s.replace('-','−');
    
    
  });

  const xl=node('text',g);
  place(xl,(L+R)/2,B+24,LABEL_SIZE,'middle');
  xl.innerHTML=axisLabelMarkup(p.xLabel,LABEL_SIZE);
  
  

  const yl=node('text',g);
  place(yl,0,0,LABEL_SIZE,'middle');
  yl.setAttribute('transform','translate('+(p.yLabelX+3.4)+','+((T+B)/2)+') rotate(-90)');
  yl.innerHTML=axisLabelMarkup(p.yLabel,LABEL_SIZE);
  
  

  const sp=node('rect',g);
  sp.setAttribute('x',L);sp.setAttribute('y',T);sp.setAttribute('width',R-L);sp.setAttribute('height',B-T);
  sp.setAttribute('fill','none');sp.setAttribute('stroke','#5a5a5a');sp.setAttribute('stroke-width',1.4);
  
  

  if(p.legend){
    const lg=node('g',g);
    
    
    const box=node('rect',lg);
    box.setAttribute('x',p.legend.left);box.setAttribute('y',T+6);
    box.setAttribute('width',p.legend.right-p.legend.left);box.setAttribute('height',37);
    box.setAttribute('rx',1.5);
    box.setAttribute('fill','#fff');box.setAttribute('fill-opacity','0.8');
    box.setAttribute('stroke','#777');box.setAttribute('stroke-width',0.8);
    
    
    ['navy','magenta'].forEach(function(col,i){
      const yy=T+16+i*17;
      const m=node('circle',lg);
      m.setAttribute('cx',p.legend.mark);m.setAttribute('cy',yy);m.setAttribute('r',POINT_R);
      m.setAttribute('fill',col);m.setAttribute('fill-opacity','0.5');
      
      
      const t=node('text',lg);
      place(t,p.legend.text,yy+4.2,LEGEND_SIZE,'start');
      t.textContent=p.legend.labels[i];
      
      
    });
  }
}
panels.forEach(drawPanel);
</script>
</body>
</html>
